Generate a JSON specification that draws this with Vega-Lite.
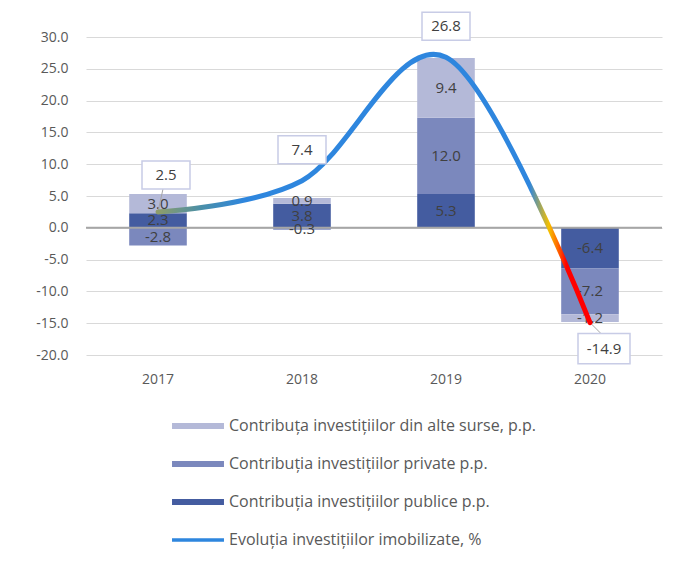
{
  "$schema": "https://vega.github.io/schema/vega-lite/v6.json",
  "width": 576,
  "height": 318,
  "autosize": "none",
  "padding": {"left": 86, "top": 37, "right": 35, "bottom": 212},
  "background": "white",
  "title": {"text": "%", "fontSize": 14, "font": "Open Sans", "color": "#595959", "fontWeight": "normal", "offset": 30, "dx": -22},
  "config": {
    "font": "Open Sans",
    "view": {"stroke": null},
    "locale": {"number": {"decimal": ".", "thousands": ",", "grouping": [3], "currency": ["$", ""], "minus": "-"}}
  },
  "datasets": {
    "bars": [
      {"year": "2017", "series": "Contribuția investițiilor publice p.p.", "value": 2.3, "order": 1},
      {"year": "2017", "series": "Contribuția investițiilor private p.p.", "value": -2.8, "order": 2},
      {"year": "2017", "series": "Contribuța investițiilor din alte surse, p.p.", "value": 3.0, "order": 3},
      {"year": "2018", "series": "Contribuția investițiilor publice p.p.", "value": 3.8, "order": 1},
      {"year": "2018", "series": "Contribuția investițiilor private p.p.", "value": -0.3, "order": 2},
      {"year": "2018", "series": "Contribuța investițiilor din alte surse, p.p.", "value": 0.9, "order": 3},
      {"year": "2019", "series": "Contribuția investițiilor publice p.p.", "value": 5.3, "order": 1},
      {"year": "2019", "series": "Contribuția investițiilor private p.p.", "value": 12.0, "order": 2},
      {"year": "2019", "series": "Contribuța investițiilor din alte surse, p.p.", "value": 9.4, "order": 3},
      {"year": "2020", "series": "Contribuția investițiilor publice p.p.", "value": -6.4, "order": 1},
      {"year": "2020", "series": "Contribuția investițiilor private p.p.", "value": -7.2, "order": 2},
      {"year": "2020", "series": "Contribuța investițiilor din alte surse, p.p.", "value": -1.2, "order": 3}
    ],
    "totals": [
      {"year": "2017", "total": 2.5},
      {"year": "2018", "total": 7.4},
      {"year": "2019", "total": 26.8},
      {"year": "2020", "total": -14.9}
    ]
  },
  "layer": [
    {
      "data": {"name": "bars"},
      "transform": [
        {"stack": "value", "groupby": ["year"], "sort": [{"field": "order", "order": "ascending"}], "as": ["v0", "v1"], "offset": "zero"}
      ],
      "mark": {"type": "bar"},
      "encoding": {
        "x": {
          "field": "year", "type": "nominal",
          "scale": {"paddingInner": 0.6, "paddingOuter": 0.3},
          "axis": {"title": null, "labelAngle": 0, "ticks": false, "domain": false, "labelPadding": 17, "labelFontSize": 14, "labelColor": "#595959", "grid": false}
        },
        "y": {
          "field": "v0", "type": "quantitative",
          "scale": {"domain": [-20, 30], "nice": false, "zero": false},
          "axis": {"title": null, "values": [-20, -15, -10, -5, 0, 5, 10, 15, 20, 25, 30], "tickCount": 20, "format": ".1f", "labelOverlap": false, "ticks": false, "domain": false, "labelPadding": 18, "labelFontSize": 14, "labelColor": "#595959", "gridColor": "#d9d9d9", "gridWidth": 1}
        },
        "y2": {"field": "v1"},
        "color": {
          "field": "series", "type": "nominal",
          "scale": {
            "domain": ["Contribuța investițiilor din alte surse, p.p.", "Contribuția investițiilor private p.p.", "Contribuția investițiilor publice p.p.", "Evoluția investițiilor imobilizate, %"],
            "range": ["#b4b9d8", "#7b88bd", "#445ca0", "#2e86de"]
          },
          "legend": {
            "orient": "none", "legendX": 104, "legendY": 381, "title": null, "padding": 0,
            "symbolType": "M-4.33,-0.5H4.33V0.5H-4.33Z", "symbolSize": 144, "symbolStrokeWidth": 0,
            "labelFontSize": 16, "labelColor": "#595959", "labelOffset": 23, "labelLimit": 500, "rowPadding": 22,
            "encode": {"symbols": {"update": {"shape": {"signal": "datum.value === 'Evoluția investițiilor imobilizate, %' ? 'M-4.33,-0.28H4.33V0.28H-4.33Z' : 'M-4.33,-0.5H4.33V0.5H-4.33Z'"}}}}
          }
        },
        "order": {"field": "order"}
      }
    },
    {
      "data": {"values": [{}]},
      "mark": {"type": "rule", "color": "#a6a6a6", "strokeWidth": 2},
      "encoding": {"y": {"datum": 0, "type": "quantitative"}}
    },
    {
      "data": {"name": "bars"},
      "transform": [
        {"stack": "value", "groupby": ["year"], "sort": [{"field": "order", "order": "ascending"}], "as": ["v0", "v1"], "offset": "zero"},
        {"calculate": "(datum.v0 + datum.v1) / 2", "as": "mid"}
      ],
      "mark": {"type": "text", "fontSize": 15, "color": "#404040"},
      "encoding": {
        "x": {"field": "year", "type": "nominal"},
        "y": {"field": "mid", "type": "quantitative"},
        "text": {"field": "value", "type": "quantitative", "format": ".1f"}
      }
    },
    {
      "data": {"name": "totals"},
      "transform": [{"filter": "datum.year === '2017'"}],
      "mark": {"type": "rule", "color": "#a6a6a6", "strokeWidth": 1, "x2Offset": 5, "y2Offset": -23},
      "encoding": {
        "x": {"field": "year", "type": "nominal"},
        "x2": {"field": "year"},
        "y": {"field": "total", "type": "quantitative"},
        "y2": {"field": "total"}
      }
    },
    {
      "data": {"name": "totals"},
      "transform": [{"filter": "datum.year === '2020'"}],
      "mark": {"type": "rule", "color": "#a6a6a6", "strokeWidth": 1, "x2Offset": 12, "y2Offset": 12},
      "encoding": {
        "x": {"field": "year", "type": "nominal"},
        "x2": {"field": "year"},
        "y": {"field": "total", "type": "quantitative"},
        "y2": {"field": "total"}
      }
    },
    {
      "data": {"name": "totals"},
      "mark": {
        "type": "line", "interpolate": "cardinal", "strokeWidth": 5, "strokeCap": "round",
        "stroke": {
          "gradient": "linear", "x1": 0, "y1": 0, "x2": 1, "y2": 0,
          "stops": [
            {"offset": 0, "color": "#8e9d6a"},
            {"offset": 0.1, "color": "#4a8fa8"},
            {"offset": 0.2, "color": "#2e86de"},
            {"offset": 0.86, "color": "#2e86de"},
            {"offset": 0.905, "color": "#f5c000"},
            {"offset": 0.925, "color": "#ff6a00"},
            {"offset": 0.945, "color": "#ff0000"},
            {"offset": 1, "color": "#ff0000"}
          ]
        }
      },
      "encoding": {
        "x": {"field": "year", "type": "nominal"},
        "y": {"field": "total", "type": "quantitative"}
      }
    },
    {
      "data": {"name": "totals"},
      "transform": [{"filter": "datum.year === '2017'"}],
      "encoding": {
        "x": {"field": "year", "type": "nominal"},
        "y": {"field": "total", "type": "quantitative"}
      },
      "layer": [
        {"mark": {"type": "point", "shape": "M-1,-0.583H1V0.583H-1Z", "size": 2304, "filled": true, "fill": "white", "stroke": "#c8cce6", "strokeWidth": 1.5, "opacity": 1, "yOffset": -37, "xOffset": 8}},
        {"mark": {"type": "text", "fontSize": 15, "color": "#404040", "yOffset": -37, "xOffset": 8}, "encoding": {"text": {"field": "total", "type": "quantitative", "format": ".1f"}}}
      ]
    },
    {
      "data": {"name": "totals"},
      "transform": [{"filter": "datum.year === '2018' || datum.year === '2019'"}],
      "encoding": {
        "x": {"field": "year", "type": "nominal"},
        "y": {"field": "total", "type": "quantitative"}
      },
      "layer": [
        {"mark": {"type": "point", "shape": "M-1,-0.583H1V0.583H-1Z", "size": 2304, "filled": true, "fill": "white", "stroke": "#c8cce6", "strokeWidth": 1.5, "opacity": 1, "yOffset": -31}},
        {"mark": {"type": "text", "fontSize": 15, "color": "#404040", "yOffset": -31}, "encoding": {"text": {"field": "total", "type": "quantitative", "format": ".1f"}}}
      ]
    },
    {
      "data": {"name": "totals"},
      "transform": [{"filter": "datum.year === '2020'"}],
      "encoding": {
        "x": {"field": "year", "type": "nominal"},
        "y": {"field": "total", "type": "quantitative"}
      },
      "layer": [
        {"mark": {"type": "point", "shape": "M-1,-0.583H1V0.583H-1Z", "size": 2704, "filled": true, "fill": "white", "stroke": "#c8cce6", "strokeWidth": 1.5, "opacity": 1, "yOffset": 26, "xOffset": 14}},
        {"mark": {"type": "text", "fontSize": 15, "color": "#404040", "yOffset": 26, "xOffset": 14}, "encoding": {"text": {"field": "total", "type": "quantitative", "format": ".1f"}}}
      ]
    }
  ]
}
